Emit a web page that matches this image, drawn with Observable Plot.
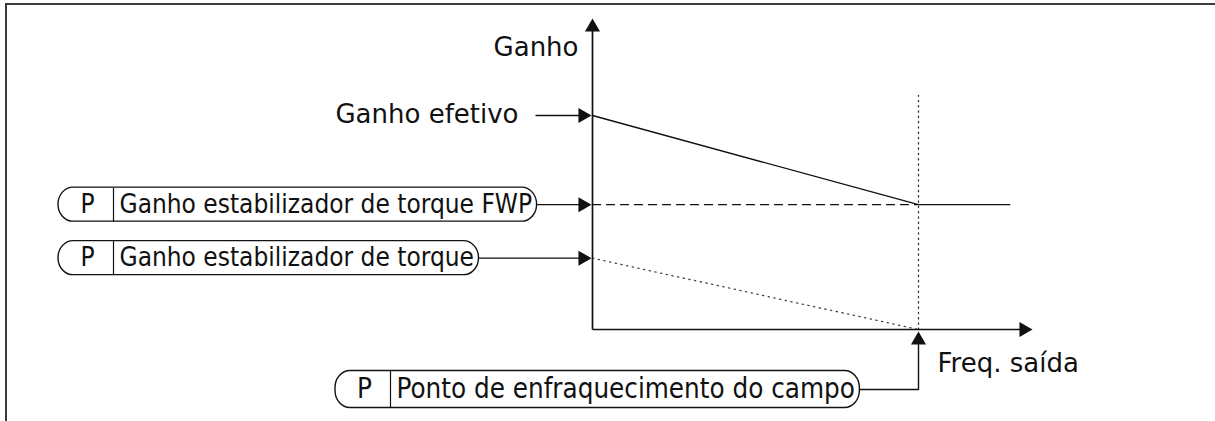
<!DOCTYPE html>
<html>
<head>
<meta charset="utf-8">
<script src="https://cdn.jsdelivr.net/npm/d3@7"></script>
<script src="https://cdn.jsdelivr.net/npm/@observablehq/plot@0.6"></script>
<style>
  html, body { margin: 0; padding: 0; background: #fff; }
  #wrap { position: relative; width: 1215px; height: 421px; overflow: hidden; }
  #wrap svg { position: absolute; left: 0; top: 0; }
  #frame { position: absolute; left: 5px; top: 3px; right: -4px; bottom: -4px;
           border-top: 2px solid #3c3c3c; border-left: 2px solid #3c3c3c; pointer-events: none; }
</style>
</head>
<body>
<div id="wrap"><div id="frame"></div></div>
<script>
// ---- data ----
const axisTitles = ["Ganho", "Freq. saída"];
const gainNames = ["Ganho efetivo", "Ganho estabilizador de torque FWP", "Ganho estabilizador de torque"];
const gainValues = [3.0, 1.75, 1.0];
const gainIsParam = [false, true, true];
const fwpNames = ["Ponto de enfraquecimento do campo"];
const fwpFreqs = [50];
const freqEnd = [64];
const paramTag = ["P"];

// ---- geometry (pixel layout) ----
const W = 1215, H = 421;
const x0px = 592, pxPerHz = 6.52;   // frequency axis
const y0px = 329, pxPerGain = 71.33; // gain axis
const xs = d3.scaleLinear().domain([-x0px / pxPerHz, (W - x0px) / pxPerHz]).range([0, W]);
const ys = d3.scaleLinear().domain([-(H - y0px) / pxPerGain, y0px / pxPerGain]).range([H, 0]);
const fx = px => xs.invert(px), gy = py => ys.invert(py);

const FONT = "DejaVu Sans";
const BOXFONT = "DejaVu Sans Condensed";
const FS = 26;
const ctx = document.createElement("canvas").getContext("2d");
const tw = (s, fs) => { ctx.font = `${fs}px "${BOXFONT}"`; return ctx.measureText(s).width; };

const fwp = fwpFreqs[0];
const gEff = gainValues[0];
const gFwp = gainValues[1];
const gTq = gainValues[2];

// axes ends
const yTop = gy(18);
const xRight = fx(1032);
const vTop = gy(95);

// parameter boxes
const boxes = [];
gainNames.forEach((name, i) => {
  if (!gainIsParam[i]) return;
  boxes.push({name, leftPx: 58, cy: ys(gainValues[i]), h: 34, fs: 26});
});
fwpNames.forEach((name) => boxes.push({name, leftPx: 335, cy: 389, h: 37, fs: 27.5, target: "x"}));
boxes.forEach(b => {
  b.divPx = b.leftPx + 55;
  b.rightPx = b.divPx + 7 + tw(b.name, b.fs) + 4;
  b.x1 = fx(b.leftPx); b.x2 = fx(b.rightPx);
  b.y1 = gy(b.cy - b.h / 2); b.y2 = gy(b.cy + b.h / 2);
  b.yc = gy(b.cy);
  b.xp = fx(b.leftPx + 29);
  b.xd = fx(b.divPx);
  b.xt = fx(b.divPx + 6);
});

// arrows
const headR = 5.6, tipOff = 1.555 * headR;
const hSegs = [];
const rightHeads = [];
const upHeads = [];
hSegs.push({x1: fx(535), x2: 0, y: gEff});
boxes.filter(b => b.target !== "x").forEach(b => hSegs.push({x1: b.x2, x2: 0, y: b.yc}));
hSegs.forEach(s => rightHeads.push({x: fx(xs(s.x2) - 1), y: s.y}));
rightHeads.push({x: xRight, y: 0});
upHeads.push({x: 0, y: yTop});
const fwpBox = boxes.find(b => b.target === "x");
const tipY = gy(y0px + 2);
const fwpPath = [
  {x: fwpBox.x2, y: fwpBox.yc},
  {x: fwp, y: fwpBox.yc},
  {x: fwp, y: gy(y0px + 2 + 8)}
];
upHeads.push({x: fwp, y: tipY});

const axisSegs = [
  {x1: 0, y1: 0, x2: 0, y2: gy(ys(yTop) + 8)},
  {x1: 0, y1: 0, x2: fx(xs(xRight) - 8), y2: 0}
];

const effLine = [{x: 0, y: gEff}, {x: fwp, y: gFwp}, {x: freqEnd[0], y: gFwp}];
const dashLine = [{x: 0, y: gFwp}, {x: fwp, y: gFwp}];
const dotLine = [{x: 0, y: gTq}, {x: fwp, y: 0}];
const vDot = [{x: fwp, y: 0}, {x: fwp, y: vTop}];

const labels = [
  {text: axisTitles[0], x: fx(578), y: gy(47), anchor: "end"},
  {text: gainNames[0], x: fx(518), y: gy(114), anchor: "end"},
  {text: axisTitles[1], x: fx(937), y: gy(363), anchor: "start"}
];

const ink = "#111";
const plot = Plot.plot({
  width: W, height: H,
  margin: 0,
  x: {domain: xs.domain(), axis: null},
  y: {domain: ys.domain(), axis: null},
  style: {background: "transparent", fontFamily: FONT},
  marks: [
    Plot.line(vDot, {x: "x", y: "y", stroke: "#333", strokeWidth: 1.3, strokeDasharray: "1.3,4"}),
    Plot.line(dotLine, {x: "x", y: "y", stroke: "#444", strokeWidth: 1.3, strokeDasharray: "1.3,4.5"}),
    Plot.line(dashLine, {x: "x", y: "y", stroke: ink, strokeWidth: 1.3, strokeDasharray: "8,6"}),
    Plot.line(effLine, {x: "x", y: "y", stroke: ink, strokeWidth: 1.4}),
    Plot.link(axisSegs, {x1: "x1", y1: "y1", x2: "x2", y2: "y2", stroke: ink, strokeWidth: 1.7}),
    Plot.link(hSegs, {x1: "x1", x2: d => fx(xs(d.x2) - 8), y1: "y", y2: "y", stroke: ink, strokeWidth: 1.4}),
    Plot.line(fwpPath, {x: "x", y: "y", stroke: ink, strokeWidth: 1.4}),
    Plot.dot(rightHeads, {x: "x", y: "y", symbol: "triangle", r: headR, rotate: 90, fill: ink, stroke: "none", dx: -tipOff}),
    Plot.dot(upHeads, {x: "x", y: "y", symbol: "triangle", r: headR, rotate: 0, fill: ink, stroke: "none", dy: tipOff}),
    Plot.rect(boxes, {x1: "x1", x2: "x2", y1: "y1", y2: "y2", rx: 15, ry: 17, fill: "white", stroke: ink, strokeWidth: 1.4}),
    Plot.link(boxes, {x1: "xd", x2: "xd", y1: "y1", y2: "y2", stroke: ink, strokeWidth: 1.2}),
    Plot.text(boxes, {x: "xp", y: "yc", text: () => paramTag[0], fontSize: "fs", fontFamily: BOXFONT, fill: ink, textAnchor: "middle"}),
    Plot.text(boxes, {x: "xt", y: "yc", text: "name", fontSize: "fs", fontFamily: BOXFONT, fill: ink, textAnchor: "start"}),
    Plot.text(labels, {x: "x", y: "y", text: "text", textAnchor: "end", fontSize: FS, fill: ink, filter: d => d.anchor === "end"}),
    Plot.text(labels, {x: "x", y: "y", text: "text", textAnchor: "start", fontSize: FS, fill: ink, filter: d => d.anchor === "start"})
  ]
});
document.getElementById("wrap").prepend(plot);
</script>
</body>
</html>
